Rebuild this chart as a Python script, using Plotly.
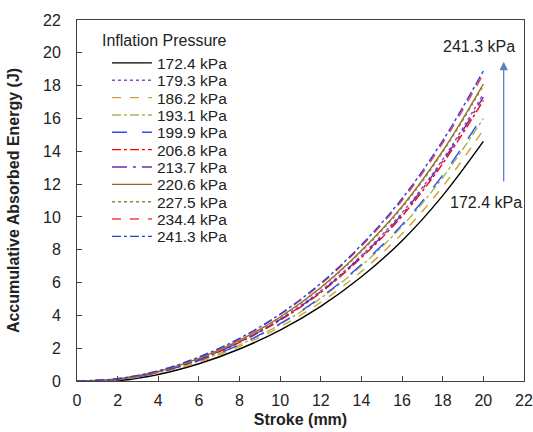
import plotly.graph_objects as go

stroke = [0, 2, 4, 6, 8, 10, 12, 14, 16, 18, 20]

pressures = ["172.4 kPa", "179.3 kPa", "186.2 kPa", "193.1 kPa", "199.9 kPa", "206.8 kPa",
             "213.7 kPa", "220.6 kPa", "227.5 kPa", "234.4 kPa", "241.3 kPa"]

e_172_4 = [0, 0.02, 0.40, 1.05, 1.95, 3.10, 4.55, 6.35, 8.55, 11.30, 14.6]
e_179_3 = [0, 0.12, 0.57, 1.36, 2.42, 3.78, 5.50, 7.65, 10.25, 13.50, 17.5]
e_186_2 = [0, 0.08, 0.48, 1.15, 2.10, 3.30, 4.80, 6.68, 8.98, 11.85, 15.3]
e_193_1 = [0, 0.10, 0.52, 1.22, 2.20, 3.45, 5.05, 7.02, 9.43, 12.40, 16.0]
e_199_9 = [0, 0.10, 0.52, 1.25, 2.22, 3.50, 5.10, 7.10, 9.53, 12.55, 16.2]
e_206_8 = [0, 0.12, 0.56, 1.30, 2.35, 3.70, 5.40, 7.52, 10.05, 13.25, 17.1]
e_213_7 = [0, 0.12, 0.56, 1.32, 2.38, 3.75, 5.45, 7.60, 10.16, 13.40, 17.3]
e_220_6 = [0, 0.12, 0.58, 1.38, 2.48, 3.90, 5.70, 7.95, 10.64, 14.02, 18.1]
e_227_5 = [0, 0.12, 0.58, 1.37, 2.46, 3.88, 5.67, 7.90, 10.57, 13.95, 18.0]
e_234_4 = [0, 0.14, 0.62, 1.45, 2.57, 4.05, 5.90, 8.22, 11.00, 14.50, 18.7]
e_241_3 = [0, 0.14, 0.62, 1.46, 2.60, 4.08, 5.96, 8.30, 11.12, 14.65, 18.9]

series = [e_172_4, e_179_3, e_186_2, e_193_1, e_199_9, e_206_8,
          e_213_7, e_220_6, e_227_5, e_234_4, e_241_3]

styles = [
    ("#000000", "solid"),
    ("#8E44C8", "dot"),
    ("#D4A030", "dash"),
    ("#9BBB59", "dashdot"),
    ("#2E4BF5", "longdash"),
    ("#FF0000", "dashdot"),
    ("#6A2EA8", "longdashdot"),
    ("#A0602A", "solid"),
    ("#77933C", "dot"),
    ("#FF3B3B", "dash"),
    ("#2A3FE0", "dashdot"),
]

W, H = 533, 432
L, R, T, B = 77, 9, 20, 51
plot_w = W - L - R
plot_h = H - T - B
first_entry_px = 63.3
entry_pitch_px = 17.35

font_family = "Liberation Sans, Arial, sans-serif"

fig = go.Figure()
legend_layouts = {}
for i, (name, ys, (col, dash)) in enumerate(zip(pressures, series, styles)):
    key = "legend" if i == 0 else f"legend{i + 1}"
    fig.add_trace(go.Scatter(
        x=stroke, y=ys, mode="lines", name=name,
        line=dict(color=col, dash=dash, width=1.4, shape="spline", smoothing=1.0),
        legend=key,
    ))
    ypix = first_entry_px + i * entry_pitch_px
    legend_layouts[key] = dict(
        x=0.067, y=(H - B - ypix) / plot_h, xanchor="left", yanchor="middle",
        bgcolor="rgba(0,0,0,0)", borderwidth=0,
        font=dict(size=15.5, color="#222222", family=font_family),
        itemwidth=40,
    )

fig.update_layout(**legend_layouts)

fig.update_layout(
    width=W, height=H,
    margin=dict(l=L, r=R, t=T, b=B, autoexpand=False),
    paper_bgcolor="white", plot_bgcolor="white",
    font=dict(family=font_family, size=16, color="#222222"),
    showlegend=True,
    xaxis=dict(
        range=[0, 22], dtick=2, tick0=0, automargin=False,
        showline=True, linecolor="#404040", linewidth=1, mirror=True,
        ticks="inside", ticklen=5, tickcolor="#404040",
        showgrid=False, zeroline=False,
        tickfont=dict(size=16), ticklabelstandoff=5,
        title=dict(text="<b>Stroke (mm)</b>", font=dict(size=16), standoff=5),
    ),
    yaxis=dict(
        range=[0, 22], dtick=2, tick0=0, automargin=False,
        showline=True, linecolor="#404040", linewidth=1, mirror=True,
        ticks="inside", ticklen=5, tickcolor="#404040",
        showgrid=False, zeroline=False,
        tickfont=dict(size=16), ticklabelstandoff=12,
        title=dict(text="<b>Accumulative Absorbed Energy (J)</b>", font=dict(size=16), standoff=19),
    ),
    annotations=[
        dict(x=(100 - L) / plot_w, y=(H - B - 40) / plot_h, xref="paper", yref="paper",
             xanchor="left", yanchor="middle", text="Inflation Pressure", showarrow=False,
             font=dict(size=16, color="#222222")),
        dict(x=21.0, y=19.45, ax=21.0, ay=12.07, xref="x", yref="y", axref="x", ayref="y",
             showarrow=True, arrowhead=2, arrowsize=1.3, arrowwidth=1.3, arrowcolor="#5B82C0", text=""),
        dict(x=19.8, y=20.4, xref="x", yref="y", text="241.3 kPa", showarrow=False,
             font=dict(size=16, color="#222222")),
        dict(x=20.15, y=10.9, xref="x", yref="y", text="172.4 kPa", showarrow=False,
             font=dict(size=16, color="#222222")),
    ],
)

fig.write_html(
    "out.html",
    config={"displayModeBar": False},
    post_script="document.body.style.margin='0';document.body.style.overflow='hidden';",
)
